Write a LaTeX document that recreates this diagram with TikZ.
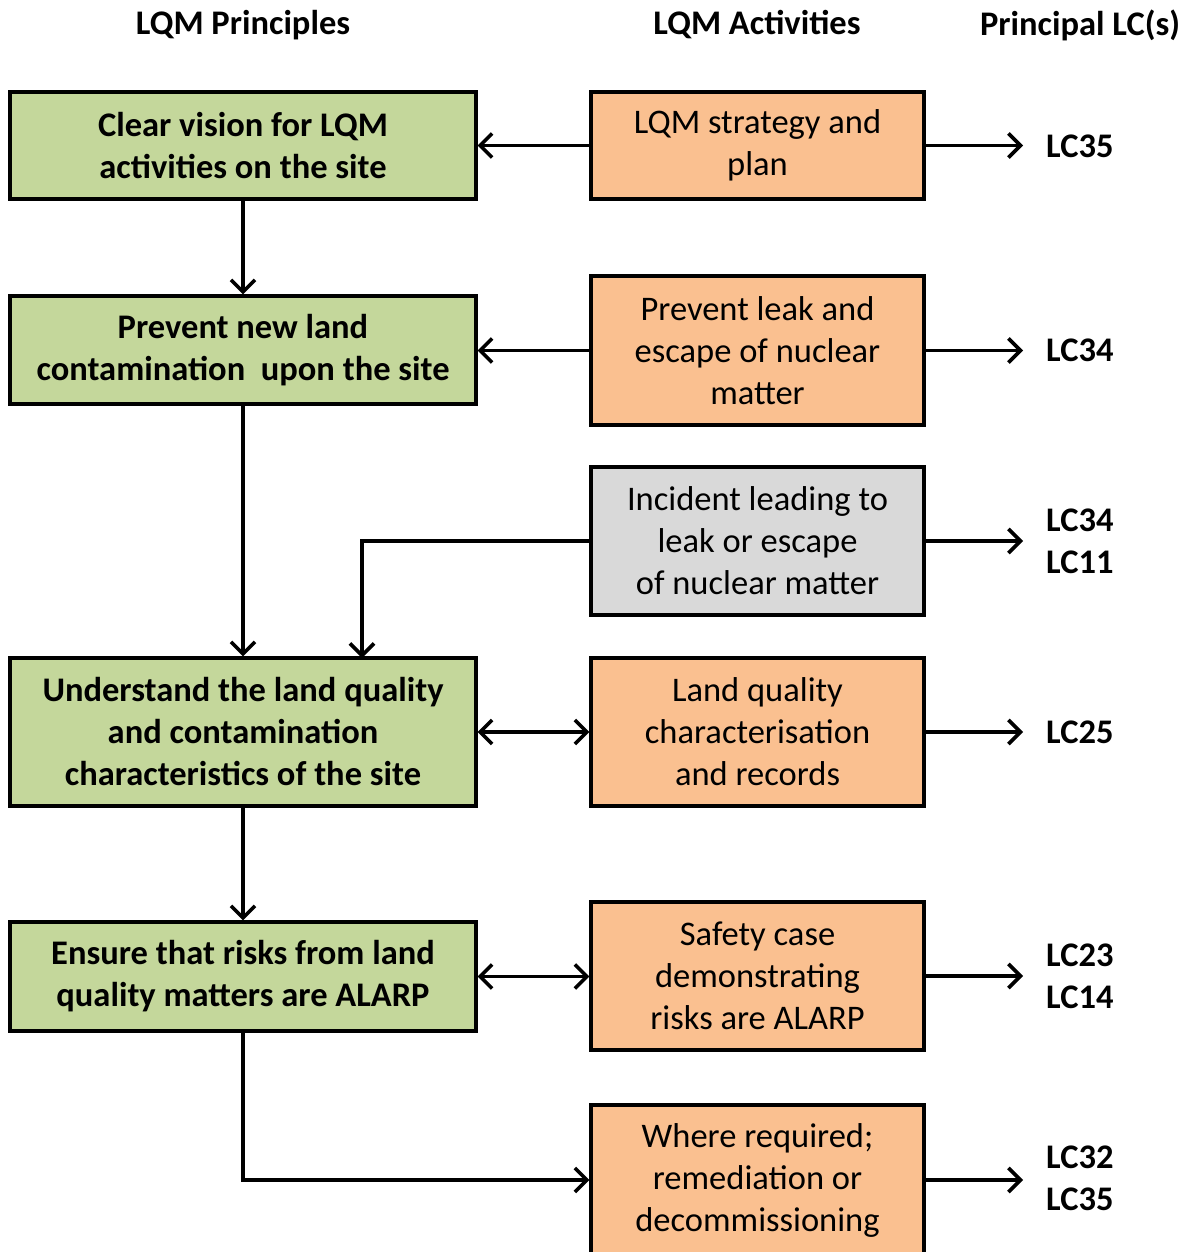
\documentclass[tikz,border=0pt]{standalone}
\usepackage{fontspec}
\setmainfont{Carlito}
\usetikzlibrary{arrows.meta}
\definecolor{greenc}{HTML}{C4D79B}
\definecolor{orangec}{HTML}{FAC090}
\definecolor{grayc}{HTML}{D9D9D9}
\tikzset{
  box/.style={draw=black, line width=3.2pt, inner sep=0pt, align=center, anchor=center,
    font=\fontsize{34.5}{42}\selectfont},
  gbox/.style={box, fill=greenc, minimum width=466pt, font=\fontsize{34.5}{42}\selectfont\bfseries},
  obox/.style={box, fill=orangec, minimum width=333pt},
  graybox/.style={box, fill=grayc, minimum width=333pt},
  lc/.style={anchor=west, inner sep=0pt, align=left, font=\fontsize{34.5}{42}\selectfont\bfseries},
  hdr/.style={inner sep=0pt, font=\fontsize{34.5}{42}\selectfont\bfseries},
  tipb/.tip={Straight Barb[length=12pt,width=24pt,line width=3.6pt]},
  arr/.style={line width=3.2pt, -tipb},
  darr/.style={line width=3.2pt, tipb-tipb}
}
\begin{document}
\begin{tikzpicture}[x=1pt,y=-1pt]
\useasboundingbox (0,0) rectangle (1190,1252);
% headers
\node[hdr] (h1) at (243,25) {LQM Principles};
\node[hdr] (h2) at (757,25) {LQM Activities};
\node[hdr] (h3) at (1080,25) {Principal LC(s)};
% principles
\node[gbox, minimum height=107pt] (g1) at (243,145.5) {Clear vision for LQM\\activities on the site};
\node[gbox, minimum height=108pt] (g2) at (243,350) {Prevent new land\\contamination\ \ upon the site};
\node[gbox, minimum height=148pt] (g3) at (243,732) {Understand the land quality\\and contamination\\characteristics of the site};
\node[gbox, minimum height=109pt] (g4) at (243,976.5) {Ensure that risks from land\\quality matters are ALARP};
% activities
\node[obox, minimum height=107pt] (o1) at (757.5,145.5) {LQM strategy and\\plan};
\node[obox, minimum height=149pt] (o2) at (757.5,350.5) {Prevent leak and\\escape of nuclear\\matter};
\node[graybox, minimum height=148pt] (o3) at (757.5,541) {Incident leading to\\leak or escape\\of nuclear matter};
\node[obox, minimum height=148pt] (o4) at (757.5,732) {Land quality\\characterisation\\and records};
\node[obox, minimum height=148pt] (o5) at (757.5,976) {Safety case\\demonstrating\\risks are ALARP};
\node[obox, minimum height=150pt] (o6) at (757.5,1180) {Where required;\\remediation or\\decommissioning};
% LCs
\node[lc] (l1) at (1046,146) {LC35};
\node[lc] (l2) at (1046,350) {LC34};
\node[lc] (l3) at (1046,541) {LC34\\LC11};
\node[lc] (l4) at (1046,732) {LC25};
\node[lc] (l5) at (1046,976) {LC23\\LC14};
\node[lc] (l6) at (1046,1178) {LC32\\LC35};
% connectors
\draw[arr] (o1.west) -- (o1.west -| g1.east);
\draw[arr] (o2.west) -- (o2.west -| g2.east);
\draw[darr] (g3.east) -- (g3.east -| o4.west);
\draw[darr] (g4.east) -- (g4.east -| o5.west);
\draw[arr] (g1.south) -- (g2.north);
\draw[arr] (g2.south) -- (g3.north);
\draw[arr] (g3.south) -- (g4.north);
\coordinate (j) at (362,658);
\draw[arr] (o3.west) -| (j);
\draw[arr] (g4.south) |- (o6.west);
\foreach \a/\b in {o1/l1,o2/l2,o3/l3,o4/l4,o5/l5,o6/l6}
  \draw[arr, shorten >=23pt] (\a.east) -- (\a.east -| \b.west);
\end{tikzpicture}
\end{document}
